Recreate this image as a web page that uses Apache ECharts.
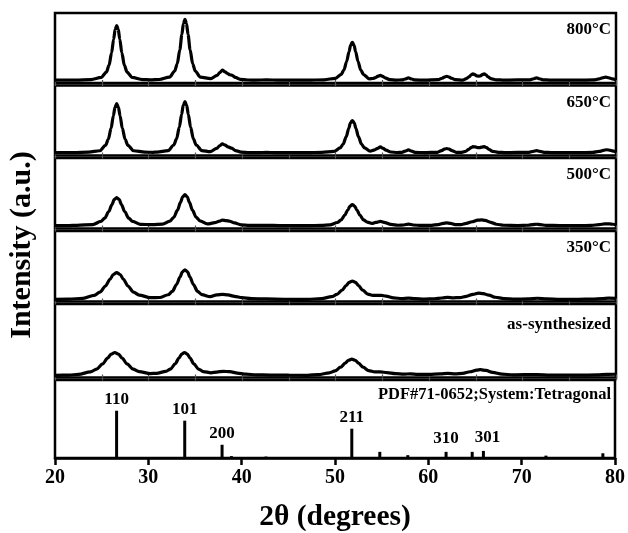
<!DOCTYPE html>
<html>
<head>
<meta charset="utf-8">
<script src="https://cdn.jsdelivr.net/npm/echarts@6/dist/echarts.min.js"></script>
<style>
html,body{margin:0;padding:0;background:#fff;}
#chart{width:628px;height:533px;}
</style>
</head>
<body>
<div id="chart"></div>
<script>
// ---------- data ----------
const panelNames = ['800\u00B0C', '650\u00B0C', '500\u00B0C', '350\u00B0C', 'as-synthesized'];
const xTickLabels = [20, 30, 40, 50, 60, 70, 80];

const xrd800 = [[20,4],[22.2,4.2],[23.85,4.9],[24.95,7.9],[25.5,15.7],[25.775,25.1],[26.05,43],[26.27,62.5],[26.435,76.5],[26.6,82],[26.765,76.5],[26.93,62.5],[27.15,43],[27.425,25.1],[27.7,15.7],[28.25,7.9],[29.35,4.9],[30.2,4.5],[31.15,5],[32.25,8.4],[32.8,17],[33.075,27.5],[33.35,47.5],[33.57,69.3],[33.735,84.9],[33.9,91],[34.065,84.9],[34.23,69.3],[34.45,47.5],[34.725,27.5],[35,17],[35.55,8.4],[36.65,6.3],[37.35,10.9],[37.62,14.8],[37.9,18.3],[38.18,16],[38.45,13.6],[38.7,11.8],[38.9,11.2],[39.3,7.9],[39.8,5.2],[40.6,4.3],[41.5,4.1],[42.6,4.5],[44,4],[47,4],[48.8,4.6],[50,6.7],[50.6,12.1],[50.9,18.6],[51.2,31],[51.44,44.5],[51.62,54.2],[51.8,58],[51.98,54.2],[52.16,44.5],[52.4,31],[52.7,18.6],[53,12.1],[53.6,6],[54,6.4],[54.3,7.8],[54.55,9.8],[54.8,10.9],[55.05,9.4],[55.3,7.3],[55.8,4.9],[56.5,4.2],[57.1,4.4],[57.45,5.7],[57.8,7.2],[58.15,5.7],[58.5,4.4],[59.5,4],[61,4.7],[61.4,6.8],[61.65,8.5],[61.9,9.6],[62.15,8.5],[62.4,6.8],[62.8,4.7],[63.6,4.2],[64,6.2],[64.3,8.9],[64.5,11.6],[64.7,13],[64.9,12],[65.1,10.3],[65.3,9.7],[65.5,10.3],[65.7,12],[65.9,13],[66.1,11.6],[66.3,8.9],[66.6,6.2],[67.2,4.6],[68,4.1],[70.8,4.6],[71.2,6.1],[71.5,7.4],[71.8,6.1],[72.2,4.6],[73,4.1],[76,4],[77.6,4.4],[78.2,5.8],[78.55,7.4],[78.9,8.5],[79.25,7.4],[79.6,5.8],[80,4.6]];

const xrd650 = [[20,4],[22,4.2],[23.6,4.8],[24.8,6.8],[25.4,14.5],[25.7,22.9],[26,39],[26.24,56.5],[26.42,69.1],[26.6,74],[26.78,69.1],[26.96,56.5],[27.2,39],[27.5,22.9],[27.8,14.5],[28.4,6.8],[29.6,4.8],[30.5,4.5],[30.9,4.9],[32.1,6.9],[32.7,15],[33,23.7],[33.3,40.5],[33.54,58.7],[33.72,71.9],[33.9,77],[34.08,71.9],[34.26,58.7],[34.5,40.5],[34.8,23.7],[35.1,15],[35.7,7.1],[36.6,5.6],[37.3,10.1],[37.6,13.9],[37.9,16.6],[38.2,14.8],[38.5,12.4],[38.9,10.4],[39.3,7.1],[39.9,4.8],[40.8,4.2],[41.8,4.1],[42.6,4.5],[43.5,4.1],[47,4],[48.55,4.5],[49.85,5.8],[50.5,10.9],[50.825,16.4],[51.15,27],[51.41,38.5],[51.605,46.8],[51.8,50],[51.995,46.8],[52.19,38.5],[52.45,27],[52.775,16.4],[53.1,10.9],[53.7,6.3],[54.2,8.1],[54.5,10.3],[54.8,12.2],[55.1,10.1],[55.4,7.6],[55.9,5],[56.6,4.3],[57.1,4.5],[57.45,6.2],[57.8,8],[58.15,6.2],[58.5,4.5],[59.5,4.1],[60.9,4.6],[61.35,7],[61.65,9],[61.9,10],[62.15,9],[62.45,7],[62.9,4.6],[63.4,4.4],[63.9,5.8],[64.25,8.8],[64.5,11.2],[64.7,12.6],[64.95,12.2],[65.2,11.3],[65.4,11.2],[65.65,12],[65.9,12.6],[66.15,11.2],[66.45,8.6],[66.8,6],[67.4,4.6],[68.2,4.1],[70.7,4.6],[71.15,6],[71.5,7],[71.85,6],[72.3,4.6],[73.2,4.1],[76,4],[77.5,4.4],[78.2,5.8],[78.65,7.4],[79,8.2],[79.4,7.4],[79.75,6.2],[80,5.5]];

const xrd500 = [[20,4],[21.5,4.2],[22.35,4.5],[24.05,5.6],[24.9,10],[25.325,14.8],[25.75,24],[26.09,34],[26.345,41.2],[26.6,44],[26.855,41.2],[27.11,34],[27.45,24],[27.875,14.8],[28.3,10],[29.15,5.9],[30.4,5.4],[31.5,6.1],[32.3,10.6],[32.7,15.9],[33.1,26],[33.42,37],[33.66,44.9],[33.9,48],[34.14,44.9],[34.38,37],[34.7,26],[35.1,15.9],[35.5,10.9],[36.3,6.5],[37.1,8.2],[37.5,10],[37.9,11.8],[38.3,11.2],[38.7,10.3],[39.2,7.9],[39.9,5.2],[40.8,4.4],[42.6,4.5],[44,4.1],[47,4],[48.5,4.5],[49.4,5.2],[50.2,8.5],[50.6,12.1],[51,19],[51.32,26.5],[51.56,31.9],[51.8,34],[52.04,31.9],[52.28,26.5],[52.6,19],[53,12.1],[53.4,9.1],[53.9,7.2],[54.3,8.6],[54.8,10],[55.3,8.4],[55.9,5.8],[56.7,4.6],[57.3,5],[57.8,6.2],[58.3,5],[59.2,4.3],[60.3,4.5],[61,5.6],[61.5,7.2],[61.9,8],[62.3,7.2],[62.8,5.6],[63.4,5.6],[64,7.2],[64.6,9.6],[65.2,11.8],[65.6,12.2],[66,11.4],[66.6,8.8],[67.2,6],[68,4.6],[69.5,4.2],[70.6,4.6],[71.1,5.5],[71.5,6],[71.9,5.5],[72.5,4.5],[74,4.1],[76,4],[77.4,4.4],[78.2,5.5],[78.8,6.5],[79.3,6.6],[79.7,6],[80,5.3]];

const xrd350 = [[20,3],[21.5,3.3],[23,4.5],[24.2,8.7],[24.8,13.3],[25.4,22],[25.88,31.5],[26.24,38.3],[26.6,41],[26.96,38.3],[27.32,31.5],[27.8,22],[28.4,13.3],[29,9.1],[30.2,5.4],[31.2,5.7],[32.1,9.6],[32.55,14.3],[33,24],[33.36,34.5],[33.63,42],[33.9,45],[34.17,42],[34.44,34.5],[34.8,24],[35.25,14.3],[35.7,9.7],[36.6,6.8],[37.3,9.3],[37.9,10],[38.5,9.4],[39.2,7.3],[40,5.4],[41,4],[42.6,3.6],[44.5,3.2],[47,3.1],[48.5,4],[49.6,6.9],[50.15,10],[50.7,16],[51.14,22.5],[51.47,27.2],[51.8,29],[52.13,27.2],[52.46,22.5],[52.9,16],[53.45,10.6],[54,8.6],[54.5,8.6],[54.9,8.8],[55.4,7.6],[56.2,5.2],[57.1,4],[57.8,4.8],[58.5,4],[59.5,3.5],[60.6,3.9],[61.4,5],[62,5.8],[62.6,5.2],[63.3,5.6],[64,7.4],[64.7,10.2],[65.3,11.8],[65.8,11.2],[66.4,9],[67.1,6],[68,4.2],[69.2,3.4],[70.6,3.6],[71.6,4.6],[72.6,3.6],[74,3.1],[76,3.1],[77.5,3.5],[78.5,4.2],[79.2,4.7],[80,4.4]];

const xrdAsSynth = [[20,3],[21.5,3.2],[22.5,4.2],[23.8,7.7],[24.45,11.4],[25.1,18.5],[25.62,26.3],[26.01,31.8],[26.4,34],[26.79,31.8],[27.18,26.3],[27.7,18.5],[28.35,11.4],[29,8],[30.2,5.3],[30.85,5.7],[31.85,8.2],[32.35,11.4],[32.85,18.5],[33.25,26.3],[33.55,31.8],[33.85,34],[34.15,31.8],[34.45,26.3],[34.85,18.5],[35.35,11.4],[35.85,8.1],[36.7,6.4],[37.3,7.4],[38,8.4],[38.7,7.9],[39.5,6],[40.4,4.5],[41.5,3.6],[43,3.3],[45,3.1],[47,3],[48.15,3.9],[49.35,6.3],[49.95,8.9],[50.55,14],[51.03,19.5],[51.39,23.5],[51.75,25],[52.11,23.5],[52.47,19.5],[52.95,14],[53.55,9.3],[54.2,7.6],[54.8,7.6],[55.5,6.6],[56.4,5.2],[57.3,4.5],[58,5],[58.8,4.3],[60,4.2],[61.2,4.9],[62,5.6],[62.8,5],[63.6,5.6],[64.4,7.8],[65.1,10],[65.5,10.6],[66.1,9.6],[66.8,7],[67.8,4.6],[69,3.6],[71.5,4],[73,3.3],[76,3.1],[78,3.6],[79,4.2],[80,4.4]];

const refPositions   = [26.6, 33.9, 37.9, 38.9, 42.6, 51.8, 54.8, 57.8, 61.9, 64.7, 65.9, 72.6, 78.7];
const refIntensities = [100,  79,   28,   4,    3,    62,   13,   6,    13,   13,   15,   5,    10];
const refHkl         = ['110','101','200','',  '',   '211','',   '',   '310','',   '301','',   ''];
const refTitle = 'PDF#71-0652;System:Tetragonal';

// ---------- layout ----------
const LEFT = 55, RIGHT = 12;
const panelBoxes = [[13,70],[85.5,70],[158,70.5],[231,70.5],[304,73.5],[380,80]]; // top, height
const FONT = '"Liberation Serif", "Times New Roman", serif';
const curves = [xrd800, xrd650, xrd500, xrd350, xrdAsSynth];

const grids = panelBoxes.map(b => ({
  left: LEFT, right: RIGHT, top: b[0], height: b[1],
  show: true, borderColor: '#000', borderWidth: 2.5, backgroundColor: 'transparent'
}));

const xAxes = [];
const yAxes = [];
for (let i = 0; i < 6; i++) {
  const isRef = i === 5;
  xAxes.push({
    type: 'value', gridIndex: i, min: 20, max: 80,
    interval: isRef ? 10 : 5, position: 'bottom',
    axisLine: { show: isRef, onZero: false, lineStyle: { color: '#000', width: 2.5 } },
    axisTick: isRef
      ? { show: true, inside: false, length: 7, lineStyle: { color: '#000', width: 2.5 } }
      : { show: true, inside: true, length: 3, lineStyle: { color: '#555', width: 1.2 } },
    axisLabel: isRef
      ? { show: true, color: '#000', fontFamily: FONT, fontWeight: 'bold', fontSize: 20, margin: 10,
          formatter: v => (xTickLabels.indexOf(v) >= 0 ? String(v) : '') }
      : { show: false },
    splitLine: { show: false },
    name: isRef ? '2\u03B8 (degrees)' : '',
    nameLocation: 'middle', nameGap: 44,
    nameTextStyle: { color: '#000', fontFamily: FONT, fontWeight: 'bold', fontSize: 29.5 }
  });
  yAxes.push({
    type: 'value', gridIndex: i, min: 0, max: isRef ? 165 : 100,
    show: false, splitLine: { show: false }
  });
}
// top edge tick marks for the stacked panels
for (let i = 0; i < 5; i++) {
  xAxes.push({
    type: 'value', gridIndex: i, min: 20, max: 80, interval: 5, position: 'top',
    axisLine: { show: false },
    axisTick: { show: true, inside: true, length: 3, lineStyle: { color: '#555', width: 1.2 } },
    axisLabel: { show: false }, splitLine: { show: false }
  });
}

const series = curves.map((c, i) => ({
  type: 'line', xAxisIndex: i, yAxisIndex: i, data: c,
  showSymbol: false, smooth: 0.3, smoothMonotone: 'x',
  lineStyle: { color: '#000', width: 3.2 }, silent: true, clip: true
}));

series.push({
  type: 'bar', xAxisIndex: 5, yAxisIndex: 5, barWidth: 3, silent: true,
  itemStyle: { color: '#000' },
  data: refPositions.map((p, k) => {
    const item = { value: [p, refIntensities[k]] };
    if (refHkl[k]) {
      const lifted = refIntensities[k] < 20;
      item.label = {
        show: true, position: 'top', formatter: refHkl[k], distance: 3,
        offset: lifted ? [refHkl[k] === '301' ? 4 : 0, -2] : [0, 0],
        color: '#000', fontFamily: FONT, fontWeight: 'bold', fontSize: 17
      };
    }
    return item;
  })
});

const graphics = panelNames.map((name, i) => ({
  type: 'text', x: 628 - RIGHT - 5, y: panelBoxes[i][0] + (i === 4 ? 21 : 17),
  silent: true,
  style: { text: name, fill: '#000', font: 'bold 17px ' + FONT,
           textAlign: 'right', textVerticalAlign: 'middle', align: 'right', verticalAlign: 'middle' }
}));
graphics.push({
  type: 'text', x: 628 - RIGHT - 5, y: panelBoxes[5][0] + 15, silent: true,
  style: { text: refTitle, fill: '#000', font: 'bold 16.5px ' + FONT,
           textAlign: 'right', textVerticalAlign: 'middle', align: 'right', verticalAlign: 'middle' }
});
graphics.push({
  type: 'text', x: 22, y: 245, rotation: Math.PI / 2, silent: true,
  style: { text: 'Intensity (a.u.)', fill: '#000', font: 'bold 30px ' + FONT,
           textAlign: 'center', textVerticalAlign: 'middle', align: 'center', verticalAlign: 'middle' }
});

const chart = echarts.init(document.getElementById('chart'), null, { renderer: 'canvas' });
chart.setOption({
  animation: false,
  backgroundColor: '#fff',
  grid: grids,
  xAxis: xAxes,
  yAxis: yAxes,
  series: series,
  graphic: graphics
});
</script>
</body>
</html>
